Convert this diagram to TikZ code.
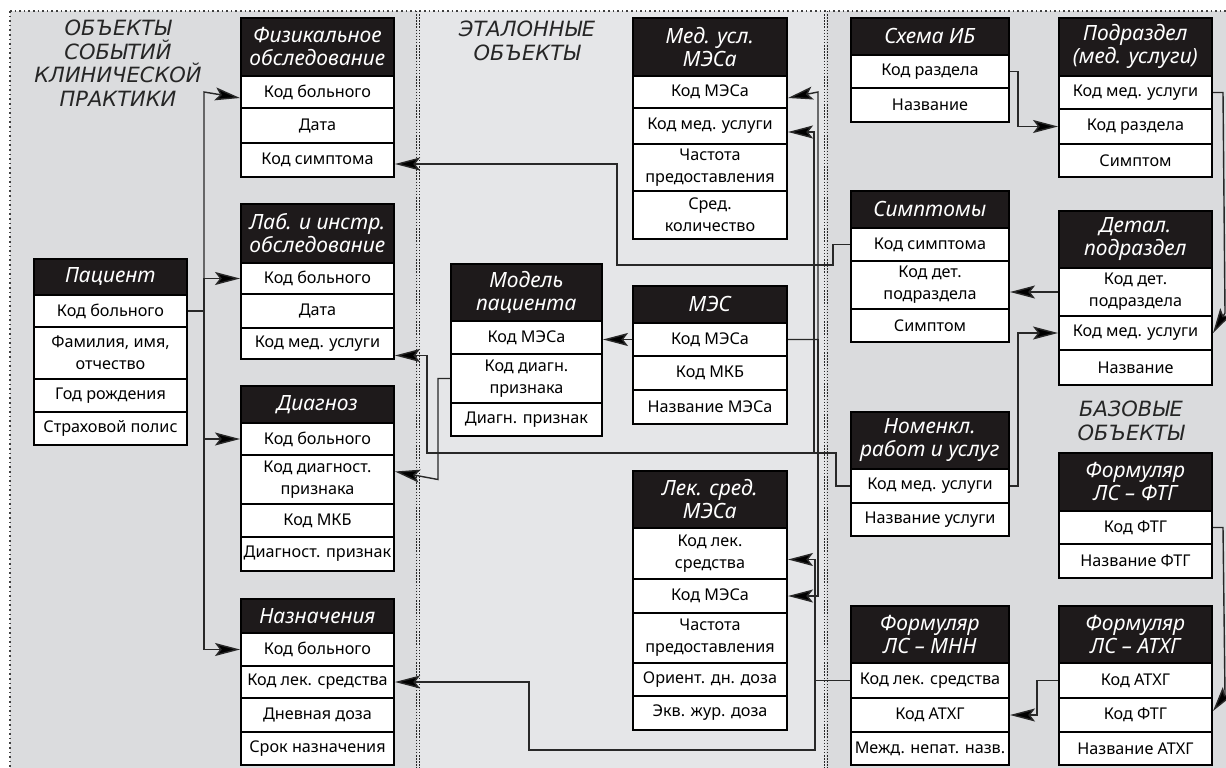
\documentclass[tikz,border=0pt]{standalone}
\usepackage{fontspec}
\setmainfont{Noto Sans}
\newfontfamily\ttlfont{DejaVu Sans}
\usetikzlibrary{arrows.meta,calc}
\definecolor{pl}{RGB}{219,220,222}
\definecolor{pm}{RGB}{229,230,232}
\definecolor{pr}{RGB}{218,219,221}
\definecolor{hb}{RGB}{30,26,27}
\definecolor{ln}{RGB}{40,40,40}
\tikzset{
 hdr/.style={fill=hb, draw=black, line width=1.6pt, text=white, font=\fontsize{21}{23}\selectfont\itshape, align=center, inner sep=0pt, anchor=north west},
 cell/.style={fill=white, draw=black, line width=2pt, font=\fontsize{16.2}{22}\selectfont, align=center, inner sep=0pt, anchor=north west},
 conn/.style={draw=ln, line width=1.4pt},
 arr/.style={conn, -{Stealth[length=25pt,width=13pt,inset=5pt,fill=black]}},
 ttl/.style={font=\ttlfont\fontsize{21}{23.5}\selectfont\itshape, text=black!85, align=center},
 sepv/.style={draw=black!85, line width=1.5pt, dash pattern=on 1.5pt off 1.6pt},
 seph/.style={draw=black!75, line width=1.6pt, dash pattern=on 1.6pt off 3pt},
}
\newcommand\hd[6]{\node[hdr,minimum width=#4,minimum height=#5] (#1) at (#2,#3) {#6};}
\newcommand\cl[6]{\node[cell,minimum width=#4,minimum height=#5] (#1) at (#2,#3) {#6};}
\begin{document}
\begin{tikzpicture}[x=1pt,y=-1pt]
\useasboundingbox (0,0) rectangle (1226,768);
\fill[white] (0,0) rectangle (1226,768);
\fill[pl] (10,11) rectangle (418,768);
\fill[pm] (418,11) rectangle (826,768);
\fill[pr] (826,11) rectangle (1226,768);
\draw[seph] (10,11) -- (1226,11);
\draw[seph] (10,11) -- (10,768);
\draw[sepv] (416.5,11) -- (416.5,768);
\draw[sepv] (419.5,11) -- (419.5,768);
\draw[sepv] (824.5,11) -- (824.5,768);
\draw[sepv] (827.5,11) -- (827.5,768);

% titles
\node[ttl] (t1) at (118,63) {ОБЪЕКТЫ\\СОБЫТИЙ\\КЛИНИЧЕСКОЙ\\ПРАКТИКИ};
\node[ttl] (t2) at (527,41) {ЭТАЛОННЫЕ\\ОБЪЕКТЫ};
\node[ttl] (t3) at (1131,421) {БАЗОВЫЕ\\ОБЪЕКТЫ};

% left panel
\hd{fizh}{240}{17}{153}{58}{Физикальное\\обследование}
\cl{fiz1}{240}{75}{153}{32}{Код больного}
\cl{fiz2}{240}{107}{153}{35}{Дата}
\cl{fiz3}{240}{142}{153}{34}{Код симптома}

\hd{labh}{240}{203}{153}{59}{Лаб. и инстр.\\обследование}
\cl{lab1}{240}{262}{153}{31}{Код больного}
\cl{lab2}{240}{293}{153}{34}{Дата}
\cl{lab3}{240}{327}{153}{31}{Код мед. услуги}

\hd{pach}{33}{258}{153}{36}{Пациент}
\cl{pac1}{33}{294}{153}{32}{Код больного}
\cl{pac2}{33}{326}{153}{52}{Фамилия, имя,\\отчество}
\cl{pac3}{33}{378}{153}{33}{Год рождения}
\cl{pac4}{33}{411}{153}{33}{Страховой полис}

\hd{diah}{240}{385}{153}{37}{Диагноз}
\cl{dia1}{240}{422}{153}{32}{Код больного}
\cl{dia2}{240}{454}{153}{49}{Код диагност.\\признака}
\cl{dia3}{240}{503}{153}{33}{Код МКБ}
\cl{dia4}{240}{536}{153}{34}{Диагност. признак}

\hd{nazh}{240}{598}{153}{34}{Назначения}
\cl{naz1}{240}{632}{153}{33}{Код больного}
\cl{naz2}{240}{665}{153}{32}{Код лек. средства}
\cl{naz3}{240}{697}{153}{34}{Дневная доза}
\cl{naz4}{240}{731}{153}{33}{Срок назначения}

% middle panel
\hd{medh}{632}{17}{154}{58}{Мед. усл.\\МЭСа}
\cl{med1}{632}{75}{154}{32}{Код МЭСа}
\cl{med2}{632}{107}{154}{36}{Код мед. услуги}
\cl{med3}{632}{143}{154}{47}{Частота\\предоставления}
\cl{med4}{632}{190}{154}{48}{Сред.\\количество}

\hd{modh}{450}{263}{151}{57}{Модель\\пациента}
\cl{mod1}{450}{320}{151}{33}{Код МЭСа}
\cl{mod2}{450}{353}{151}{49}{Код диагн.\\признака}
\cl{mod3}{450}{402}{151}{33}{Диагн. признак}

\hd{mesh}{632}{285}{154}{37}{МЭС}
\cl{mes1}{632}{322}{154}{33}{Код МЭСа}
\cl{mes2}{632}{355}{154}{34}{Код МКБ}
\cl{mes3}{632}{389}{154}{34}{Название МЭСа}

\hd{lekh}{632}{470}{154}{57}{Лек. сред.\\МЭСа}
\cl{lek1}{632}{527}{154}{51}{Код лек.\\средства}
\cl{lek2}{632}{578}{154}{34}{Код МЭСа}
\cl{lek3}{632}{612}{154}{50}{Частота\\предоставления}
\cl{lek4}{632}{662}{154}{33}{Ориент. дн. доза}
\cl{lek5}{632}{695}{154}{34}{Экв. жур. доза}

% right panel
\hd{schh}{850}{17}{158}{37}{Схема ИБ}
\cl{sch1}{850}{54}{158}{33}{Код раздела}
\cl{sch2}{850}{87}{158}{34}{Название}

\hd{subh}{1058}{17}{153}{58}{Подраздел\\(мед. услуги)}
\cl{sub1}{1058}{75}{153}{33}{Код мед. услуги}
\cl{sub2}{1058}{108}{153}{35}{Код раздела}
\cl{sub3}{1058}{143}{153}{33}{Симптом}

\hd{symh}{850}{190}{158}{37}{Симптомы}
\cl{sym1}{850}{227}{158}{33}{Код симптома}
\cl{sym2}{850}{260}{158}{48}{Код дет.\\подраздела}
\cl{sym3}{850}{308}{158}{33}{Симптом}

\hd{deth}{1058}{210}{153}{57}{Детал.\\подраздел}
\cl{det1}{1058}{267}{153}{48}{Код дет.\\подраздела}
\cl{det2}{1058}{315}{153}{34}{Код мед. услуги}
\cl{det3}{1058}{349}{153}{35}{Название}

\hd{nomh}{850}{411}{158}{57}{Номенкл.\\работ и услуг}
\cl{nom1}{850}{468}{158}{34}{Код мед. услуги}
\cl{nom2}{850}{502}{158}{33}{Название услуги}

\hd{ftgh}{1058}{452}{153}{58}{Формуляр\\ЛС – ФТГ}
\cl{ftg1}{1058}{510}{153}{33}{Код ФТГ}
\cl{ftg2}{1058}{543}{153}{34}{Название ФТГ}

\hd{mnnh}{850}{605}{158}{57}{Формуляр\\ЛС – МНН}
\cl{mnn1}{850}{662}{158}{35}{Код лек. средства}
\cl{mnn2}{850}{697}{158}{34}{Код АТХГ}
\cl{mnn3}{850}{731}{158}{33}{Межд. непат. назв.}

\hd{atxh}{1058}{605}{153}{57}{Формуляр\\ЛС – АТХГ}
\cl{atx1}{1058}{662}{153}{35}{Код АТХГ}
\cl{atx2}{1058}{697}{153}{34}{Код ФТГ}
\cl{atx3}{1058}{731}{153}{33}{Название АТХГ}

% connectors
\coordinate (bus1) at (204,0);
\draw[arr] (pac1.east) -| (bus1 |- fiz1.east) -- ([yshift=-6pt]fiz1.west);
\draw[arr] (pac1.east) -| (bus1 |- lab1.west) -- (lab1.west);
\draw[arr] (pac1.east) -| (bus1 |- dia1.west) -- (dia1.west);
\draw[arr] (pac1.east) -| (bus1 |- naz1.west) -- (naz1.west);

\coordinate (busM) at (818,0);
\draw[arr] (mes1.east) -| (busM |- med1.east) -- ([yshift=-6pt]med1.east);
\draw[arr] (mes1.east) -| (busM |- lek2.east) -- (lek2.east);
\draw[arr] (mes1.west) -- (mes1.west -| mod1.east);

\coordinate (cD) at (438,0);
\draw[arr] (mod2.west) -| (cD |- dia2.east) -- ([yshift=8pt]dia2.east);

\coordinate (cS1) at (833,265);
\coordinate (cS2) at (617,265);
\draw[arr] (sym1.west) -| (cS1) -- (cS2) |- ([yshift=-4pt]fiz3.east);

\coordinate (cN1) at (836,453);
\coordinate (cN2) at (427,453);
\coordinate (cN3) at (814,453);
\draw[arr] (nom1.west) -| (cN1) -- (cN2) |- ([yshift=-12pt]lab3.east);
\draw[arr] (cN3) |- ([yshift=-6pt]med2.east);
\coordinate (cN4) at (1018,0);
\draw[arr] (nom1.east) -| (cN4 |- det2.west) -- (det2.west);

\coordinate (cL1) at (815,750);
\coordinate (cL2) at (529,750);
\draw[arr] (mnn1.west) -| ([yshift=-6pt]cL1 |- lek1.east) -- ([yshift=-6pt]lek1.east);
\draw[arr] (mnn1.west) -| (cL1) -- (cL2) |- (naz2.east);

\draw[arr] (sch1.east) -| (cN4 |- sub2.west) -- (sub2.west);

\coordinate (cR2) at (1223,0);
\draw[arr] (sub1.east) -- (sub1.east -| cR2) -- ($(det2.east)+(12,-20)$) -- (det2.east);
\draw[arr] (det1.west) -- (det1.west -| sym2.east);
\draw[arr] (ftg1.east) -- (ftg1.east -| cR2) -- ($(atx2.east)+(12,-20)$) -- ([yshift=4pt]atx2.east);

\coordinate (cA) at (1037,0);
\draw[arr] (atx1.west) -| (cA |- mnn2.east) -- (mnn2.east);
\end{tikzpicture}
\end{document}
